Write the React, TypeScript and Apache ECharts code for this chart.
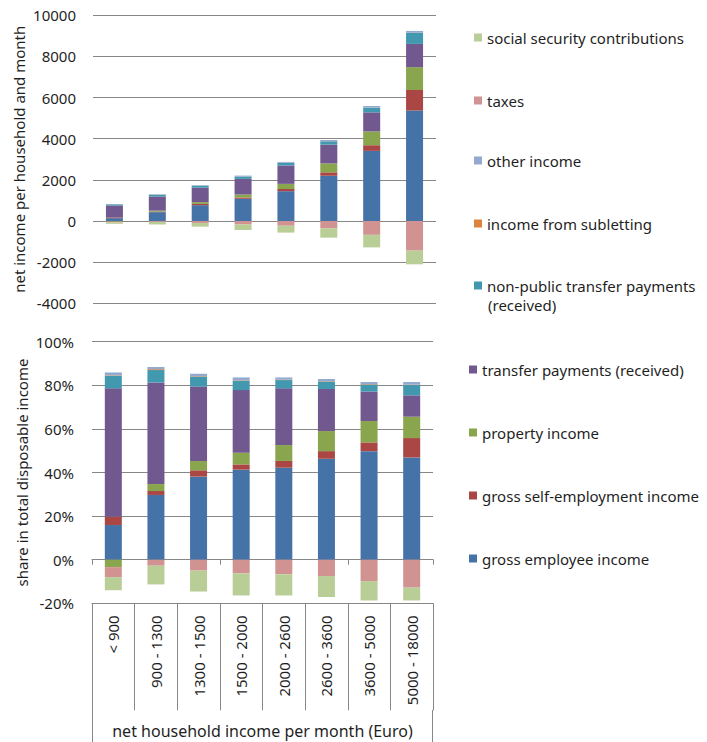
import React, { useEffect, useRef } from "react";
import * as echarts from "echarts";

const categories = ["< 900", "900 - 1300", "1300 - 1500", "1500 - 2000", "2000 - 2600", "2600 - 3600", "3600 - 5000", "5000 - 18000"];

const seriesNames = [
  "gross employee income",
  "gross self-employment income",
  "property income",
  "transfer payments (received)",
  "non-public transfer payments (received)",
  "income from subletting",
  "other income",
  "taxes",
  "social security contributions",
];

const seriesColors = ["#4572A7", "#AA4643", "#89A54E", "#71588F", "#4198AF", "#DB843D", "#93A9CF", "#D19392", "#B9CD96"];

// Euro per household and month
const euroEmployee = [140, 430, 770, 1080, 1450, 2200, 3410, 5370];
const euroSelf = [35, 27, 60, 64, 106, 166, 274, 1000];
const euroProperty = [-33, 47, 88, 143, 250, 435, 672, 1110];
const euroTransfer = [580, 689, 701, 761, 892, 913, 926, 1130];
const euroNonPublic = [56, 84, 95, 114, 130, 161, 226, 530];
const euroSubletting = [3, 6, 4, 5, 5, 6, 8, 10];
const euroOther = [14, 18, 25, 40, 41, 57, 75, 90];
const euroTaxes = [-44, -41, -95, -167, -230, -355, -672, -1441];
const euroSocial = [-58, -127, -180, -268, -333, -454, -610, -664];

// share in total disposable income (%)
const shareEmployee = [15.9, 29.7, 38.1, 41.3, 42.2, 46.3, 49.8, 46.9];
const shareSelf = [3.8, 1.8, 2.9, 2.4, 3.1, 3.5, 4.0, 8.9];
const shareProperty = [-3.4, 3.2, 4.3, 5.4, 7.3, 9.2, 9.8, 9.8];
const shareTransfer = [58.9, 46.6, 34.1, 28.7, 26.0, 19.3, 13.5, 9.8];
const shareNonPublic = [5.8, 5.7, 4.6, 4.3, 3.8, 3.4, 3.3, 4.7];
const shareSubletting = [0.2, 0.4, 0.2, 0.2, 0.2, 0.2, 0.2, 0.2];
const shareOther = [1.3, 1.0, 1.1, 1.3, 1.0, 1.0, 0.9, 1.2];
const shareTaxes = [-4.6, -2.75, -5.0, -6.3, -6.7, -7.5, -9.8, -12.8];
const shareSocial = [-6.0, -8.6, -9.6, -10.1, -9.7, -9.6, -8.9, -5.9];

const topTicks = { min: -4000, max: 10000, interval: 2000 };
const bottomTicks = { min: -20, max: 100, interval: 20 };

const euroData = [euroEmployee, euroSelf, euroProperty, euroTransfer, euroNonPublic, euroSubletting, euroOther, euroTaxes, euroSocial];
const shareData = [shareEmployee, shareSelf, shareProperty, shareTransfer, shareNonPublic, shareSubletting, shareOther, shareTaxes, shareSocial];

const FONT = "Noto Sans";
const TEXT = "#1f1f1f";
const GRID = "#878787";

// legend layout: [series index, left, centerY]
const legendLayout: [number, number, number][] = [
  [8, 474, 39],
  [7, 474, 102],
  [6, 474, 162],
  [5, 474, 225],
  [4, 474, 287],
  [3, 469, 371],
  [2, 469, 434],
  [1, 469, 497],
  [0, 469, 560],
];

export default function App() {
  const ref = useRef<HTMLDivElement>(null);
  useEffect(() => {
    if (!ref.current) return;
    const chart = echarts.init(ref.current, undefined, { renderer: "svg" });
    const series: any[] = [];
    seriesNames.forEach((name, i) => {
      series.push({
        name,
        type: "bar",
        stack: "top",
        xAxisIndex: 0,
        yAxisIndex: 0,
        barWidth: 17,
        itemStyle: { color: seriesColors[i] },
        data: euroData[i],
      });
      series.push({
        name,
        type: "bar",
        stack: "bottom",
        xAxisIndex: 1,
        yAxisIndex: 1,
        barWidth: 17,
        itemStyle: { color: seriesColors[i] },
        data: shareData[i],
      });
    });
    const legends = legendLayout.map(([idx, left, cy]) => ({
      data: [seriesNames[idx]],
      left,
      top: cy - 9,
      orient: "vertical",
      icon: "rect",
      itemWidth: 8,
      itemHeight: 8,
      padding: 0,
      selectedMode: false,
      formatter: (n: string) => (n === "non-public transfer payments (received)" ? "non-public transfer payments" : n),
      textStyle: { fontFamily: FONT, fontSize: 15, color: TEXT },
    }));
    chart.setOption({
      animation: false,
      textStyle: { fontFamily: FONT },
      legend: legends,
      grid: [
        { left: 93, top: 15.3, width: 343, height: 288 },
        { left: 92, top: 341.7, width: 341, height: 261.6 },
      ],
      xAxis: [
        {
          type: "category",
          gridIndex: 0,
          data: categories,
          axisLine: { show: false },
          axisTick: { show: false },
          axisLabel: { show: false },
        },
        {
          type: "category",
          gridIndex: 1,
          data: categories,
          position: "bottom",
          axisLine: { onZero: true, lineStyle: { color: GRID } },
          axisTick: { show: true, length: 5, lineStyle: { color: GRID } },
          axisLabel: { show: false },
        },
        {
          type: "category",
          gridIndex: 1,
          data: categories,
          position: "bottom",
          axisLine: { onZero: false, lineStyle: { color: GRID } },
          axisTick: { show: true, length: 107, lineStyle: { color: GRID } },
          axisLabel: { rotate: 90, margin: 12, fontSize: 15, color: TEXT, fontFamily: FONT, interval: 0 },
          name: "net household income per month (Euro)",
          nameLocation: "middle",
          nameGap: 120,
          nameTextStyle: { fontSize: 16, color: TEXT, fontFamily: FONT },
        },
      ],
      yAxis: [
        {
          type: "value",
          gridIndex: 0,
          ...topTicks,
          axisLine: { show: false },
          axisTick: { show: false },
          splitLine: { lineStyle: { color: GRID } },
          axisLabel: { margin: 17, fontSize: 15, color: TEXT, fontFamily: FONT, formatter: (v: number) => String(v) },
          name: "net income per household and month",
          nameLocation: "middle",
          nameGap: 67,
          nameTextStyle: { fontSize: 15, color: TEXT, fontFamily: FONT },
        },
        {
          type: "value",
          gridIndex: 1,
          ...bottomTicks,
          axisLine: { show: false },
          axisTick: { show: false },
          splitLine: { lineStyle: { color: GRID } },
          axisLabel: { margin: 18, fontSize: 15, color: TEXT, fontFamily: FONT, formatter: "{value}%" },
          name: "share in total disposable income",
          nameLocation: "middle",
          nameGap: 63,
          nameTextStyle: { fontSize: 15, color: TEXT, fontFamily: FONT },
        },
      ],
      graphic: [
        { type: "text", left: 488, top: 297, style: { text: "(received)", fontSize: 15, fontFamily: FONT, fill: TEXT } },
        { type: "line", shape: { x1: 92.5, y1: 710, x2: 92.5, y2: 742 }, style: { stroke: GRID, lineWidth: 1 } },
        { type: "line", shape: { x1: 432.5, y1: 710, x2: 432.5, y2: 742 }, style: { stroke: GRID, lineWidth: 1 } },
      ],
      series,
    });
    return () => chart.dispose();
  }, []);
  return <div ref={ref} style={{ position: "absolute", left: 0, top: 0, width: 707, height: 742 }} />;
}
